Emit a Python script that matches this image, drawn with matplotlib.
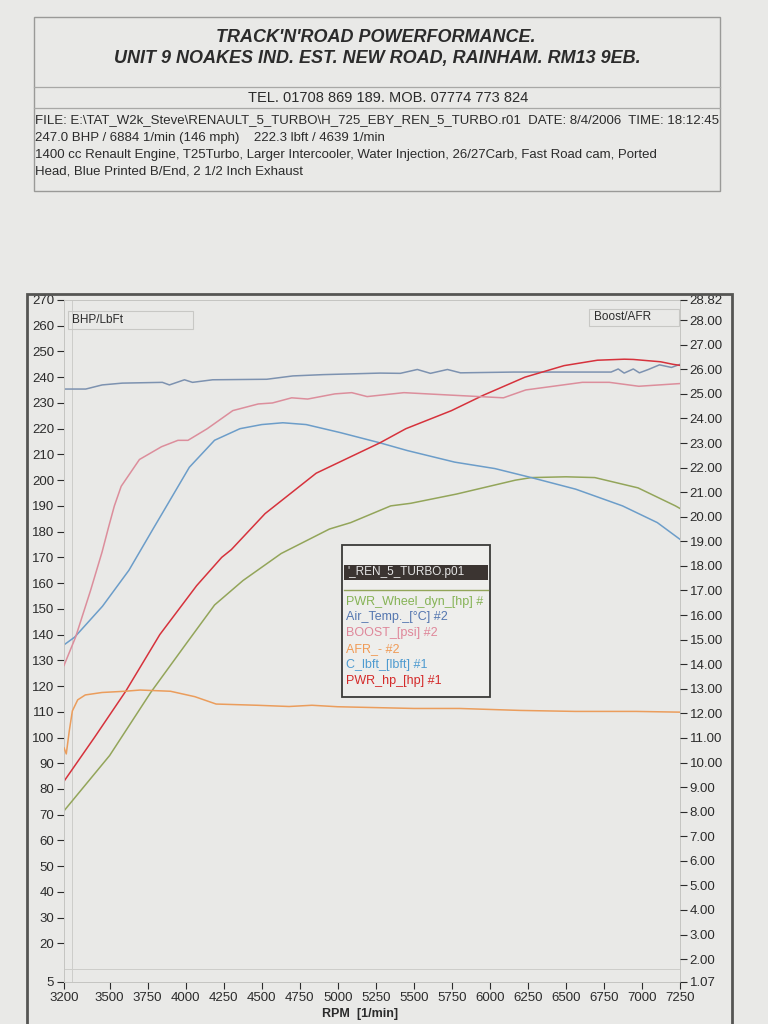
import matplotlib.pyplot as plt
import numpy as np
from matplotlib.patches import Rectangle
from matplotlib.lines import Line2D

plt.rcParams['font.family'] = ['Liberation Sans', 'DejaVu Sans']

# ---- data ----
rpm_ticks = [3200, 3500, 3750, 4000, 4250, 4500, 4750, 5000, 5250, 5500,
             5750, 6000, 6250, 6500, 6750, 7000, 7250]
left_ticks = [5] + list(range(20, 271, 10))
right_ticks = [1.07] + list(range(2, 29)) + [28.82]

hp_rpm = [3200, 3400, 3606, 3830, 4072, 4237, 4300, 4522, 4858, 5277, 5448,
          5747, 5957, 6230, 6488, 6707, 6884, 6943, 7122, 7205, 7250]
hp = [83, 100, 118, 140, 159, 170, 173, 187, 202.7, 214.5, 220,
      227, 233, 240, 244.5, 246.6, 247.0, 246.9, 246, 245, 244.6]

wheel_rpm = [3200, 3500, 3770, 4010, 4190, 4377, 4628, 4945, 5085, 5348, 5479,
             5781, 6168, 6273, 6500, 6690, 6974, 7220, 7250]
wheel = [71.5, 93, 117.5, 137, 151.5, 161, 171.5, 181, 183.5, 190, 191,
         194.6, 200, 201, 201.3, 201, 197, 190, 189]

tq_rpm = [3200, 3270, 3453, 3627, 3790, 3850, 4024, 4190, 4357, 4500, 4639,
          4792, 5015, 5277, 5457, 5769, 6033, 6272, 6564, 6872, 7101, 7250]
torque = [136, 139, 151, 165, 181.5, 187.5, 205, 215.5, 220, 221.6, 222.3,
          221.6, 218.5, 214.5, 211.5, 207, 204.5, 201, 196.5, 190, 183.5, 177]

air_rpm = [3200, 3343, 3451, 3583, 3847, 3893, 3992, 4045, 4177, 4533, 4705,
           4903, 5279, 5411, 5523, 5609, 5721, 5807, 6157, 6797, 6844, 6883,
           6943, 6983, 7042, 7115, 7194, 7250]
air_temp = [235.4, 235.4, 237, 237.7, 238, 237, 239, 238, 239, 239.2, 240.5,
            241, 241.6, 241.5, 243, 241.5, 243, 241.7, 242, 242, 243.2, 241.6,
            243.2, 241.7, 243, 244.8, 243.8, 245]

boost_rpm = [3200, 3276, 3374, 3450, 3494, 3531, 3576, 3696, 3841, 3949, 4015,
             4141, 4310, 4477, 4570, 4697, 4802, 4981, 5092, 5193, 5435, 5742,
             6089, 6236, 6608, 6785, 6979, 7250]
boost = [13.95, 15.10, 16.99, 18.56, 19.60, 20.44, 21.24, 22.33, 22.85, 23.11,
         23.11, 23.58, 24.32, 24.59, 24.63, 24.84, 24.79, 25.00, 25.05, 24.89,
         25.05, 24.95, 24.84, 25.16, 25.47, 25.47, 25.31, 25.42]

afr_rpm = [3200, 3215, 3235, 3255, 3290, 3340, 3450, 3600, 3700, 3900, 4060,
           4200, 4470, 4680, 4830, 5000, 5500, 5800, 6200, 6560, 6960, 7250]
afr = [10.6, 10.35, 11.3, 12.1, 12.55, 12.75, 12.85, 12.9, 12.95, 12.9, 12.68,
       12.38, 12.33, 12.28, 12.33, 12.27, 12.2, 12.2, 12.12, 12.08, 12.08, 12.05]

paper = '#e9e9e7'
ink = '#2b2b2b'
c_hp = '#d6323c'
c_wheel = '#93a55a'
c_tq = '#6c9dc9'
c_air = '#7d92b0'
c_boost = '#dc8e9c'
c_afr = '#eb9d5c'

W, H = 768, 1024


def fx(x):
    return x / W


def fy(y):
    return 1 - y / H


fig = plt.figure(figsize=(7.68, 10.24), dpi=100, facecolor=paper)

# ---- header box ----
fig.add_artist(Rectangle((fx(34), fy(191)), fx(720) - fx(34), fy(17) - fy(191),
                         transform=fig.transFigure, fill=False, ec='#9a9a98', lw=1))
for yy in (87, 108):
    fig.add_artist(Line2D([fx(34), fx(720)], [fy(yy), fy(yy)],
                          transform=fig.transFigure, color='#a8a8a6', lw=0.9))
fig.text(fx(376), fy(38), "TRACK'N'ROAD POWERFORMANCE.", ha='center', va='center',
         fontsize=13, fontweight='bold', fontstyle='italic', color=ink)
fig.text(fx(377), fy(59), "UNIT 9 NOAKES IND. EST. NEW ROAD, RAINHAM. RM13 9EB.",
         ha='center', va='center', fontsize=13, fontweight='bold',
         fontstyle='italic', color=ink)
fig.text(fx(388), fy(98), "TEL. 01708 869 189. MOB. 07774 773 824", ha='center',
         va='center', fontsize=10.5, color=ink)
info = [r"FILE: E:\TAT_W2k_Steve\RENAULT_5_TURBO\H_725_EBY_REN_5_TURBO.r01  DATE: 8/4/2006  TIME: 18:12:45",
        "247.0 BHP / 6884 1/min (146 mph)    222.3 lbft / 4639 1/min",
        "1400 cc Renault Engine, T25Turbo, Larger Intercooler, Water Injection, 26/27Carb, Fast Road cam, Ported",
        "Head, Blue Printed B/End, 2 1/2 Inch Exhaust"]
for s, yy in zip(info, (120, 138, 155, 171)):
    fig.text(fx(35), fy(yy), s, ha='left', va='center', fontsize=9.5, color=ink)

# ---- outer chart frame ----
fig.add_artist(Rectangle((fx(27), -0.01), fx(732) - fx(27), fy(294) + 0.01,
                         transform=fig.transFigure, fill=False, ec='#555553', lw=2))

# ---- main axes ----
ax = fig.add_axes([fx(64), fy(982), fx(680) - fx(64), fy(300) - fy(982)])
ax.set_facecolor(paper)
ax.plot(air_rpm, air_temp, color=c_air, lw=1.1)
ax.plot(wheel_rpm, wheel, color=c_wheel, lw=1.1)
ax.plot(tq_rpm, torque, color=c_tq, lw=1.1)
ax.plot(hp_rpm, hp, color=c_hp, lw=1.1)
ax.set_xlim(3200, 7250)
ax.set_ylim(5, 270)
ax.set_xticks(rpm_ticks)
ax.set_xticklabels([str(r) for r in rpm_ticks])
ax.set_xticks(np.arange(3250, 7251, 250), minor=True)
ax.set_yticks(left_ticks)
ax.set_yticklabels([str(v) for v in left_ticks])
ax.set_yticks(np.arange(10, 271, 10), minor=True)
ax.grid(False)
ax.grid(which='minor', color='#cdcdca', lw=0.7)
ax.tick_params(which='minor', length=0)
ax.tick_params(axis='both', which='major', labelsize=9.5, colors=ink, length=5,
               width=0.8, direction='out', pad=2)
for sp in ax.spines.values():
    sp.set_color('#c4c4c1')
    sp.set_linewidth(0.7)

ax2 = ax.twinx()
ax2.plot(boost_rpm, boost, color=c_boost, lw=1.1)
ax2.plot(afr_rpm, afr, color=c_afr, lw=1.1)
ax2.set_ylim(1.07, 28.82)
ax2.set_yticks(right_ticks)
ax2.set_yticklabels(['%.2f' % v for v in right_ticks])
ax2.tick_params(axis='y', labelsize=9.5, colors=ink, length=5, width=0.8, pad=2)
for sp in ax2.spines.values():
    sp.set_visible(False)

fig.text(fx(360), fy(1014), "RPM  [1/min]", ha='center', va='center',
         fontsize=9, fontweight='bold', color=ink)

# ---- axis captions inside the plot ----
fig.add_artist(Rectangle((fx(68), fy(329)), fx(193) - fx(68), fy(311) - fy(329),
                         transform=fig.transFigure, fill=False, ec='#c8c8c5', lw=0.8))
fig.text(fx(72), fy(320), "BHP/LbFt", ha='left', va='center', fontsize=8.5, color=ink)
fig.add_artist(Rectangle((fx(589), fy(326)), fx(679) - fx(589), fy(309) - fy(326),
                         transform=fig.transFigure, fill=False, ec='#c8c8c5', lw=0.8))
fig.text(fx(594), fy(317), "Boost/AFR", ha='left', va='center', fontsize=8.5, color=ink)

# ---- legend box ----
fig.add_artist(Rectangle((fx(342), fy(697)), fx(490) - fx(342), fy(545) - fy(697),
                         transform=fig.transFigure, fc='#eeeeec', ec='#3a3a38', lw=1.3))
fig.add_artist(Rectangle((fx(344), fy(580)), fx(488) - fx(344), fy(565) - fy(580),
                         transform=fig.transFigure, fc='#3b3431', ec='none'))
fig.text(fx(347), fy(572.5), "'_REN_5_TURBO.p01", ha='left', va='center',
         fontsize=8.5, color='#e6e6e6')
fig.add_artist(Line2D([fx(344), fx(488)], [fy(590), fy(590)],
                      transform=fig.transFigure, color=c_wheel, lw=1))
entries = [("PWR_Wheel_dyn_[hp] #", '#86b356'),
           ("Air_Temp._[°C] #2", '#5577b0'),
           ("BOOST_[psi] #2", '#df879a'),
           ("AFR_- #2", '#f09a55'),
           ("C_lbft_[lbft] #1", '#4f9bd0'),
           ("PWR_hp_[hp] #1", '#d42a2a')]
for (s, c), yy in zip(entries, (602, 617, 633, 649, 665, 681)):
    fig.text(fx(346), fy(yy), s, ha='left', va='center', fontsize=9, color=c)

fig.savefig('out.png', dpi=100, facecolor=fig.get_facecolor())
